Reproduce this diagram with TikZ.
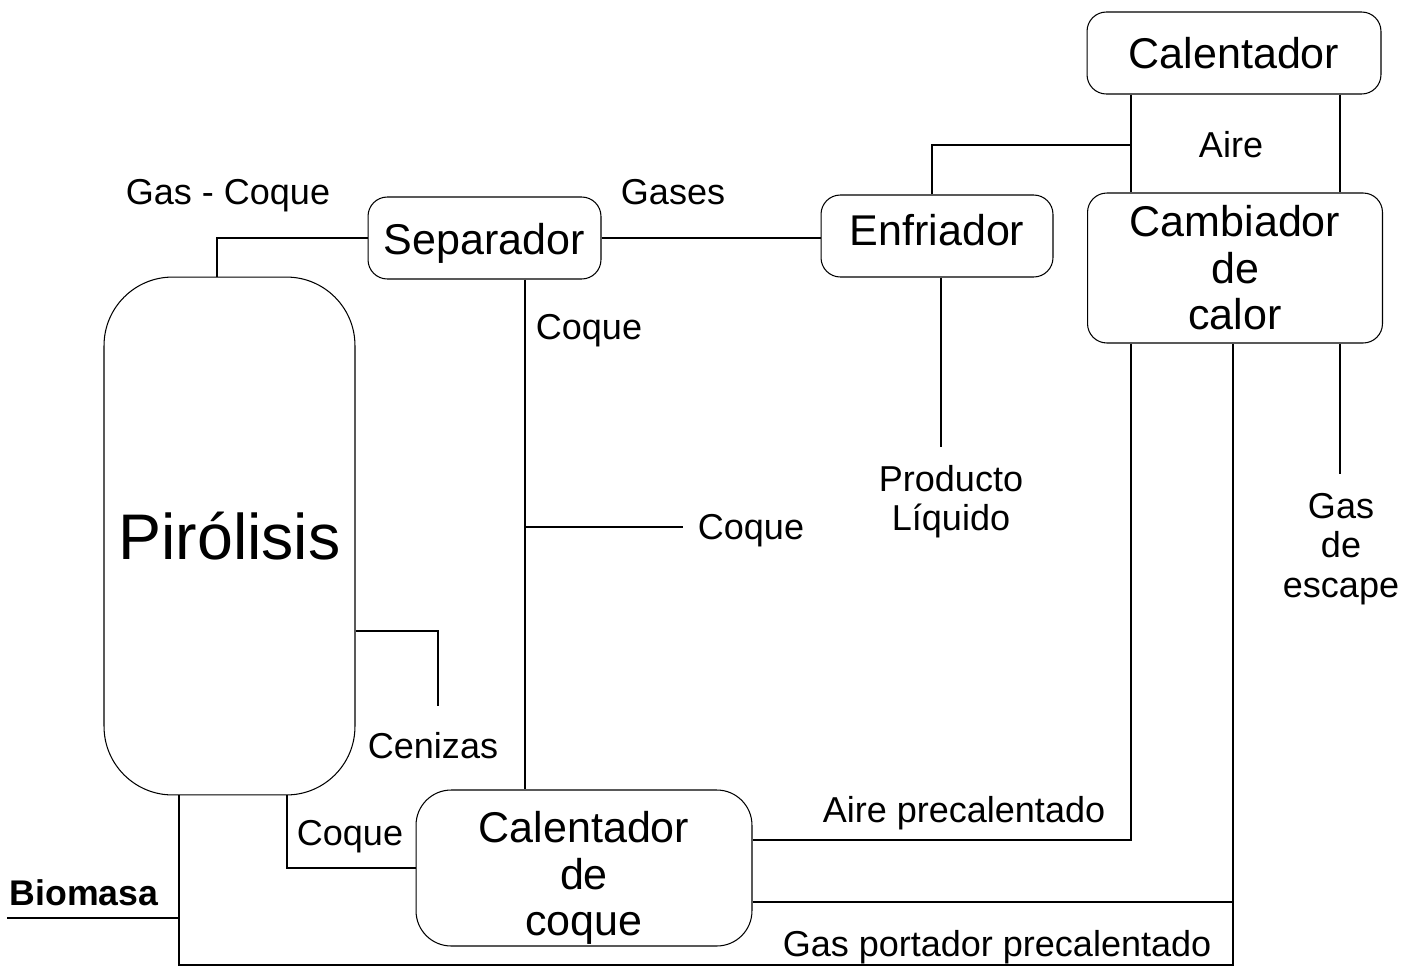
\documentclass[tikz,border=0pt]{standalone}
\usepackage{fontspec}
\setmainfont{Liberation Sans}
\begin{document}
\begin{tikzpicture}[x=0.02cm, y=-0.02cm, line width=0.6pt,
        unit/.style={draw, rounded corners=11pt, inner sep=0pt, align=center,
            font=\fontsize{24.5}{26.5}\selectfont},
        flow/.style={inner sep=0pt, align=center,
            font=\fontsize{20.5}{22}\selectfont}]
        \useasboundingbox (0,0) rectangle (1420,967);

        \node[unit, minimum width=5.88cm, minimum height=1.64cm] (calentador) at (1234,53) {Calentador};
        \node[unit, minimum width=5.9cm, minimum height=3cm] (cambiador) at (1235,268) {Cambiador\\de\\calor};
        \node[unit, minimum width=4.66cm, minimum height=1.64cm,
            text height=23.6pt, text depth=5.1pt] (separador) at (484.5,238) {Separador};
        \node[unit, minimum width=4.64cm, minimum height=1.64cm,
            text height=17.9pt, text depth=6.8pt] (enfriador) at (937,236) {Enfriador};
        \node[unit, rounded corners=39pt, minimum width=5.02cm, minimum height=10.36cm,
            font=\fontsize{36.7}{40}\selectfont] (pirolisis) at (229.5,536) {Pirólisis};
        \node[unit, rounded corners=20pt, minimum width=6.72cm, minimum height=3.12cm,
            text height=82.3pt, text depth=5.1pt] (calcoque) at (584,868) {Calentador\\de\\coque};

        \node[flow] (aire) at (1231,145) {Aire};
        \node[flow] (gasCoque) at (228,196) {Gas - Coque};
        \node[flow] (gases) at (673,192) {Gases};
        \node[flow] (coqueA) at (589,331) {Coque};
        \node[flow] (coqueB) at (751,531) {Coque};
        \node[flow] (liquido) at (951,502) {Producto\\Líquido};
        \node[flow, font=\fontsize{20.5}{22.3}\selectfont] (escape) at (1341,549) {Gas\\de\\escape};
        \node[flow] (cenizas) at (433,746) {Cenizas};
        \node[flow] (coqueC) at (350,837) {Coque};
        \node[flow] (airePre) at (964,813) {Aire precalentado};
        \node[flow] (gasPre) at (997,947) {Gas portador precalentado};
        \node[flow, font=\fontsize{20.3}{22}\selectfont\bfseries] (biomasa) at (84,893) {Biomasa};

        % columnas y puntos de paso
        \coordinate (colAireL) at (1131,0);
        \coordinate (colAireR) at (1340,0);
        \coordinate (colGas) at (1233,0);
        \coordinate (colCoque) at (525,0);
        \coordinate (colLiq) at (941,0);
        \coordinate (colEnf) at (932,0);
        \coordinate (colPiroT) at (217,0);
        \coordinate (colPiroB) at (179,0);
        \coordinate (colPiroC) at (287,0);
        \coordinate (aireJunta) at (1131,145);
        \coordinate (coqueRama) at (525,527);
        \coordinate (coqueFin) at (683,527);
        \coordinate (liqFin) at (941,447);
        \coordinate (escFin) at (1340,474);
        \coordinate (aireCodo) at (1131,840);
        \coordinate (gasCodo) at (1233,965);
        \coordinate (gasRama) at (1233,902);
        \coordinate (cenCodo) at (438,631);
        \coordinate (cenFin) at (438,706);
        \coordinate (bioIni) at (7,918);

        \draw (calentador.south -| colAireL) -- (cambiador.north -| colAireL);
        \draw (calentador.south -| colAireR) -- (cambiador.north -| colAireR);
        \draw (enfriador.north -| colEnf) |- (aireJunta);

        \draw (pirolisis.north -| colPiroT) |- (separador.west);
        \draw (separador.east) -- (separador.east -| enfriador.west);
        \draw (separador.south -| colCoque) -- (calcoque.north -| colCoque);
        \draw (coqueRama) -- (coqueFin);
        \draw (enfriador.south -| colLiq) -- (liqFin);

        \draw (cambiador.south -| colAireL) -- (aireCodo) -- (aireCodo -| calcoque.east);
        \draw (cambiador.south -| colGas) -- (gasCodo) -| (pirolisis.south -| colPiroB);
        \draw (gasRama) -- (gasRama -| calcoque.east);
        \draw (cambiador.south -| colAireR) -- (escFin);

        \draw (cenCodo -| pirolisis.east) -- (cenCodo) -- (cenFin);
        \draw (pirolisis.south -| colPiroC) |- (calcoque.west);
        \draw (bioIni) -- (bioIni -| colPiroB);
    \end{tikzpicture}
\end{document}
